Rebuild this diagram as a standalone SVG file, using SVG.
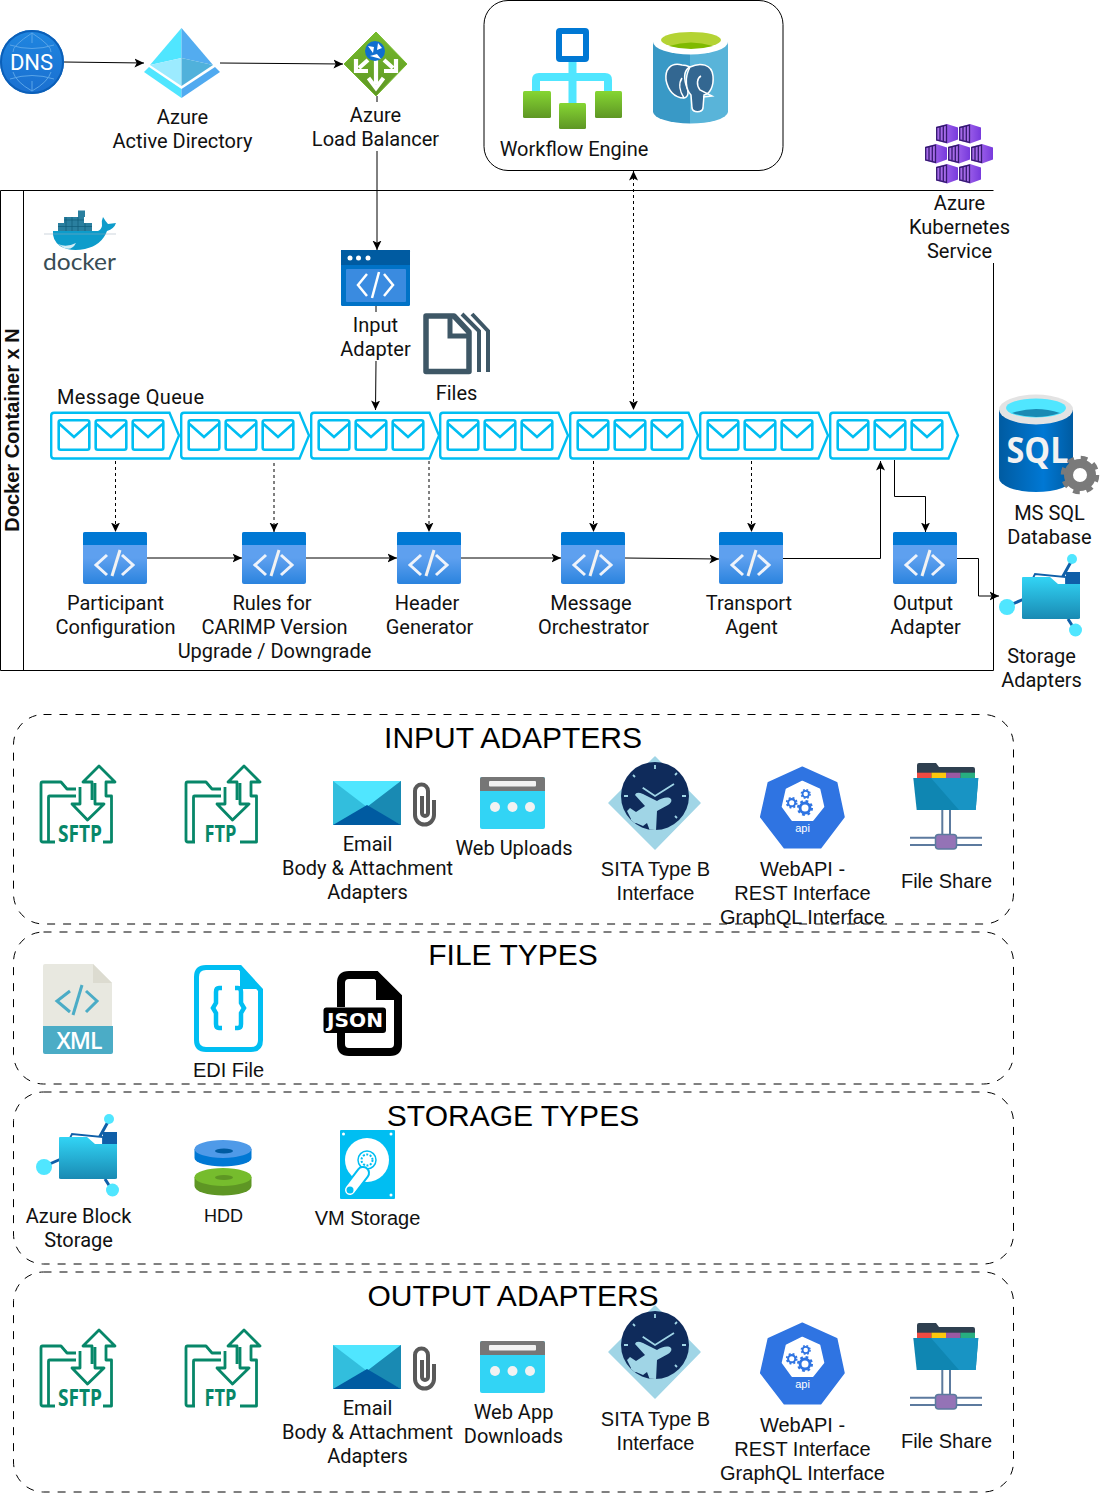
<svg xmlns="http://www.w3.org/2000/svg" width="1101" height="1493" viewBox="0 0 1101 1493">
<style>
text{font-family:Roboto,"Liberation Sans",sans-serif;font-size:20px;fill:#111;text-anchor:middle}
text.l{font-family:"Liberation Sans",Arial,sans-serif}
text.h{font-family:"Liberation Sans",Arial,sans-serif;font-size:30px;fill:#000}
.c{fill:none;stroke:#000;stroke-width:1}
.d{stroke-dasharray:3 3}
.a{marker-end:url(#arr)}
.panel{fill:none;stroke:#000;stroke-width:1;stroke-dasharray:8 8}
.gf{fill:none;stroke:#078769;stroke-width:2.8;stroke-linejoin:round}
text.ft{font-family:"Open Sans","Liberation Sans",sans-serif;font-weight:700;fill:#078769;font-size:24px}
</style>
<defs>
<marker id="arr" markerUnits="userSpaceOnUse" markerWidth="10" markerHeight="10" refX="9.500" refY="5" orient="auto-start-reverse"><path d="M0,0.500 L9.500,5 L0,9.500 L2.200,5Z" fill="#000"/></marker>
<linearGradient id="fn" x1="0" y1="0" x2="0" y2="1"><stop offset="0.5" stop-color="#5ea0ef"/><stop offset="1" stop-color="#2a83de"/></linearGradient>
<linearGradient id="fold" x1="0" y1="0" x2="0" y2="1"><stop offset="0" stop-color="#32d4f5"/><stop offset="1" stop-color="#198ab3"/></linearGradient>
<linearGradient id="green" x1="0" y1="0" x2="0" y2="1"><stop offset="0" stop-color="#86d633"/><stop offset="1" stop-color="#5e9624"/></linearGradient>
<linearGradient id="lb" x1="0" y1="0" x2="0" y2="1"><stop offset="0" stop-color="#76bc2d"/><stop offset="1" stop-color="#5e9624"/></linearGradient>
<linearGradient id="dnsg" x1="0" y1="0" x2="0" y2="1"><stop offset="0" stop-color="#1f86e0"/><stop offset="1" stop-color="#1a6fd0"/></linearGradient>
<linearGradient id="sqlg" x1="0" y1="0" x2="1" y2="0"><stop offset="0" stop-color="#005ba1"/><stop offset="0.6" stop-color="#0078d4"/><stop offset="1" stop-color="#005ba1"/></linearGradient>
<linearGradient id="aks" x1="0" y1="0" x2="1" y2="0"><stop offset="0" stop-color="#b77af4"/><stop offset="1" stop-color="#773adc"/></linearGradient>
<symbol id="fnIcon" width="64" height="52" viewBox="0 0 64 52" overflow="visible">
<rect width="64" height="52" rx="2" fill="url(#fn)"/><path d="M2,0H62a2,2 0 0 1 2,2V13H0V2a2,2 0 0 1 2,-2Z" fill="#0078d4"/>
<path d="M24,23 L13,33 L24,43M39,23 L50,33 L39,43" fill="none" stroke="#eef3fb" stroke-width="3"/><path d="M37,18 L29,44" stroke="#f2f2f2" stroke-width="3"/>
</symbol>
<g id="env"><rect x="1.200" y="1.200" width="30.600" height="29.600" rx="2" fill="#fff" stroke="#00bef2" stroke-width="2.600"/><path d="M2,5 L16.500,18 L31,5" fill="none" stroke="#00bef2" stroke-width="2.600"/></g>
<symbol id="queue" width="132" height="50" viewBox="0 0 132 50" overflow="visible">
<path d="M4,1.200 H119.500 L129,24 L119.500,47 H4 Q1.200,47 1.200,44 V4 Q1.200,1.200 4,1.200Z" fill="#fff" stroke="#00bef2" stroke-width="2.400"/>
<use href="#env" x="7.500" y="7.500"/><use href="#env" x="44.500" y="7.500"/><use href="#env" x="81.500" y="7.500"/>
</symbol>
<symbol id="cube" width="23" height="20" viewBox="0 0 23 20" overflow="visible">
<path d="M0,3 L11,0 L22,3.500 V15.500 L11,19.500 L0,16.500Z" fill="url(#aks)"/><path d="M0.700,3.500 L10.500,1 V18.500 L0.700,16Z" fill="#a569e8" stroke="#341a6e" stroke-width="1.300"/><path d="M4,3V16M7.300,2V17.500" stroke="#341a6e" stroke-width="1.300"/>
</symbol>
<g id="gear"><circle r="11.500" fill="none" stroke="#7a7a7a" stroke-width="9"/><circle r="16" fill="none" stroke="#7a7a7a" stroke-width="6.500" stroke-dasharray="6.300 6.300"/></g>
<g id="storage">
<path d="M1024,599 L1008,606M1062,578 L1072,560M1068,619 L1075,630" stroke="#0f5fa8" stroke-width="3"/>
<path d="M1066,572 H1080 V590 H1066Z" fill="#0f5fa8"/><path d="M1032,580 L1035,574 L1066,577 V586 H1032Z" fill="#fff" stroke="#0f5fa8" stroke-width="1.800"/>
<path d="M1023,577 H1050 L1058,584 H1080 V618 Q1080,619 1078,619 H1024 Q1022,619 1022,618 V578 Q1022,577 1023,577Z" fill="url(#fold)"/>
<circle cx="1007" cy="607" r="8" fill="#50e6ff"/><circle cx="1072" cy="559" r="5" fill="#50e6ff"/><circle cx="1075.500" cy="630" r="6.500" fill="#50e6ff"/>
</g>
<g id="sftpShape">
<path class="gf" d="M76,789 H67 L61,782 H42.500 Q41,782 41,784 V840 Q41,842 43,842 H55M48.500,842 V797 Q48.500,796 49.500,796 H76"/>
<path class="gf" d="M80,787 V804 H72 L87.500,820 L104,804 H95 V783M92,800 V782 H83 L99,766 L115,782 H106 V796 H111.500 V842 H103"/>
</g>
<g id="ftpShape">
<path class="gf" d="M76,789 H67 L61,782 H42.500 Q41,782 41,784 V840 Q41,842 43,842 H50M48.500,842 V797 Q48.500,796 49.500,796 H76"/>
<path class="gf" d="M80,787 V804 H72 L87.500,820 L104,804 H95 V783M92,800 V782 H83 L99,766 L115,782 H106 V796 H111.500 V842 H95"/>
</g>
<g id="email">
<rect x="333" y="781" width="68" height="44" fill="#32bedd"/><path d="M333,781 H401 L367,807Z" fill="#50e6ff"/><path d="M401,781 V825 L367,807Z" fill="#198ab3"/><path d="M333,825 L367,805 L401,825Z" fill="#005ba1"/>
<path d="M434,800 V815 a9.500,9.500 0 0 1 -19,0 V791 a6.500,6.500 0 0 1 13,0 V813 a3,3 0 0 1 -6,0 V796" fill="none" stroke="#595959" stroke-width="4"/>
</g>
<g id="web">
<rect x="480" y="777" width="65" height="52" rx="2" fill="#32d4f5"/><path d="M482,777 H543 Q545,777 545,779 V791 H480 V779 Q480,777 482,777Z" fill="#767676"/>
<rect x="489" y="781" width="47" height="5.500" rx="1" fill="#f2f2f2"/><circle cx="495" cy="807" r="5" fill="#f2f2f2"/><circle cx="512.500" cy="807" r="5" fill="#f2f2f2"/><circle cx="530" cy="807" r="5" fill="#f2f2f2"/>
</g>
<clipPath id="sitaClip"><circle cx="655" cy="796" r="34"/></clipPath>
<g id="sita">
<path d="M655,757 L700,803 L655,849 L609,803Z" fill="#a0d5e6" stroke="#a0d5e6" stroke-width="1.500" stroke-linejoin="round"/>
<circle cx="655" cy="796" r="34" fill="#0f2b5b"/>
<path d="M655,765V769M655,823V827M624,796H628M682,796H686M633,775L635,777M675,775L677,773M675,816L677,818" stroke="#a0d5e6" stroke-width="1.800"/>
<path d="M642.700,787.700 L655,796 L674,784" fill="none" stroke="#a0d5e6" stroke-width="1.800"/>
<path clip-path="url(#sitaClip)" d="M671,799 C668,796 662,798 657,801 L643,794 Q636,791 635,795 L645,806 L636,812 L630,808 L627,811 L631,819 L628,826 L636,823 L643,826 L647,823 L650,831 H656 L657,811 L668,805 C671,803 672,801 671,799Z" fill="#a0d5e6"/>
</g>
<g id="gearB"><circle r="4.500" fill="none" stroke="#2f74e2" stroke-width="2.600"/><circle r="6.300" fill="none" stroke="#2f74e2" stroke-width="2" stroke-dasharray="2.500 2.500"/></g>
<g id="api">
<path d="M802.300,767.300 L836.700,782.700 L844,817 L820.700,847.700 H784.300 L760.700,817 L768.300,782.700Z" fill="#2f74e2" stroke="#2f74e2" stroke-width="1.500" stroke-linejoin="round"/>
<path d="M802.300,781.700 L819.300,789.300 L823.300,806.700 L812.700,820 H792.300 L782.700,806.700 L786.700,789.300Z" fill="#fff" stroke="#fff" stroke-width="2" stroke-linejoin="round"/>
<use href="#gearB" transform="translate(805,808) scale(1.100)"/><use href="#gearB" transform="translate(791.700,802.700) scale(.8)"/><use href="#gearB" transform="translate(805.700,794) scale(.7)"/>
<text x="802.500" y="832" style="font-size:11px;fill:#fff" class="l">api</text>
</g>
<g id="share">
<path d="M917,765 Q917,763 919,763 H936 L939,767 H973 Q975,767 975,769 V778 H917Z" fill="#2f4050"/>
<rect x="917" y="772.700" width="14.500" height="5.300" fill="#f04a42"/><rect x="931.500" y="772.700" width="14.500" height="5.300" fill="#fdc70c"/><rect x="946" y="772.700" width="14.500" height="5.300" fill="#9b59a2"/><rect x="960.500" y="772.700" width="14.500" height="5.300" fill="#27ae80"/>
<path d="M913.300,778 H978.300 L975.700,810 H916.700Z" fill="#0f86b2"/><path d="M931,778 H978.300 L975.700,810 H959Z" fill="#1894c4"/>
<path d="M942.300,810V835M950,810V835M910,837.700H935M910,845H935M957,837.700H982M957,845H982" stroke="#5c7a9e" stroke-width="2"/>
<rect x="935.500" y="834.500" width="21" height="14.500" rx="3" fill="#9473b6" stroke="#5c7a9e" stroke-width="1.500"/>
</g>
</defs>

<g id="connectors">
<path class="c" d="M0.500,670.500 V190.500 H993.500 M993.500,263 V670.500 H0.500 M23.500,190.500 V670.500" />
<path class="c a" d="M64,62 L144,63"/>
<path class="c a" d="M220,63 L343,64"/>
<path class="c" d="M377,96 V102"/>
<path class="c a" d="M377,151 V250"/>
<path class="c" d="M376,306 V312"/>
<path class="c a" d="M376,361 L375.500,410"/>
<path class="c d a" d="M633.500,171 V410" style="marker-start:url(#arr)"/>
<path class="c d a" d="M115.500,461 V532"/>
<path class="c d a" d="M274,463 V532"/>
<path class="c d a" d="M429,461 V532"/>
<path class="c d a" d="M593.500,461 V532"/>
<path class="c d a" d="M751.500,461 V532"/>
<path class="c a" d="M147,558 H242"/>
<path class="c a" d="M306,558 H397"/>
<path class="c a" d="M461,558 H561"/>
<path class="c a" d="M625,558 L719,559"/>
<path class="c a" d="M783,558.500 H880.500 V461"/>
<path class="c a" d="M894.500,460 V496.500 H925.500 V532"/>
<path class="c a" d="M957,558.500 H978.500 V596 H999"/>
</g>

<g id="dns"><circle cx="32" cy="62" r="32" fill="url(#dnsg)"/><circle cx="32" cy="62" r="31" fill="none" stroke="#0b5fb8" stroke-width="2"/>
<path d="M32,33 V43M32,81V91M10,45 Q32,52 54,45M10,79 Q32,72 54,79M32,33 Q12,46 13,52M32,33 Q52,46 51,52M13,72 Q16,82 32,91M51,72 Q48,82 32,91" fill="none" stroke="#5aa5e8" stroke-width="1"/>
<text x="31.500" y="70" style="font-size:22px;fill:#fff">DNS</text></g>
<g id="aad">
<path d="M181.500,28 L150,65 L181.500,58Z" fill="#50e6ff"/><path d="M150,65 L181.500,58 V86Z" fill="#9cebff"/><path d="M181.500,28 L213,65 L181.500,58Z" fill="#53acf0"/><path d="M213,65 L181.500,58 V86Z" fill="#50b1db"/>
<path d="M144,72 L149,67 L181.500,89 V98Z" fill="#50e6ff"/><path d="M220,72 L215,67 L181.500,89 V98Z" fill="#50aaf0"/>
<text x="182.500" y="124">Azure</text><text x="182.500" y="148">Active Directory</text></g>
<g id="lb">
<path d="M376,32 L407,64 L376,96 L344,64Z" fill="url(#lb)" stroke="#76bc2d" stroke-width="1" stroke-linejoin="round"/>
<path d="M376,60 V84M368.500,78 L376,88 L383.500,78M368,60 L359,68M356,59 V71 H368M384,60 L393,68M396,59 V71 H384" fill="none" stroke="#fff" stroke-width="4.200"/>
<circle cx="375" cy="51" r="10" fill="#0f6fd0"/><path d="M368,46 L374,47 L373,53ZM378,43 L382,48 L377,50ZM370,56 L377,54 L381,59Z" fill="#fff"/>
<text x="375.500" y="122">Azure</text><text x="375.500" y="146">Load Balancer</text></g>
<g id="workflow">
<rect x="484" y="0.500" width="299" height="170" rx="24" fill="none" stroke="#000"/>
<path d="M572.500,60 V105M536,92 V80 Q536,77 539,77 H605 Q608,77 608,80 V92" fill="none" stroke="#50e6ff" stroke-width="8"/>
<rect x="559" y="31" width="27" height="28" rx="1" fill="#fff" stroke="#0078d4" stroke-width="6"/>
<rect x="523" y="91" width="28" height="27" rx="1.500" fill="url(#green)"/><rect x="559" y="103" width="27" height="26" rx="1.500" fill="url(#green)"/><rect x="595" y="91" width="27" height="27" rx="1.500" fill="url(#green)"/>
<text x="574" y="156">Workflow Engine</text></g>
<g id="postgres">
<path d="M653,42 V112 A37.500,12 0 0 0 690,123.500 V30 Z" fill="#3999c6"/><path d="M728,42 V112 A37.500,12 0 0 1 690,123.500 V30 Z" fill="#59b4d9"/>
<ellipse cx="690.500" cy="42" rx="37.500" ry="12.500" fill="#fff"/><ellipse cx="691" cy="40" rx="30" ry="8" fill="#b4d334"/><path d="M669,46 Q691,39 713,46 Q691,52 669,46Z" fill="#7fba00"/>
<path d="M682,65 C670,62 665,70 666,80 C668,90 674,98 684,98 C690,96 688,90 686,85 C684,78 684,70 690,67 C688,66 685,65 682,65Z" fill="#336791" stroke="#fff" stroke-width="1.500"/>
<path d="M690,67 C700,62 712,64 713,76 C714,86 710,94 704,95 L703,108 C702,113 693,113 692,108 L691,95 C686,90 684,78 690,67Z" fill="#336791" stroke="#fff" stroke-width="1.500"/>
<path d="M701,76 C697,78 696,85 700,90 L712,96 L703,97M682,78 C678,84 680,92 684,98" fill="none" stroke="#fff" stroke-width="1.500"/>
</g>
<g id="aks-node">
<use href="#cube" x="936" y="124"/><use href="#cube" x="959" y="124"/><use href="#cube" x="925" y="144"/><use href="#cube" x="948" y="144"/><use href="#cube" x="971" y="144"/><use href="#cube" x="936" y="164"/><use href="#cube" x="959" y="164"/>
<text x="959.500" y="210">Azure</text><text x="959.500" y="234">Kubernetes</text><text x="959.500" y="258">Service</text></g>

<g id="docker-container"><text class="l" transform="translate(19,430) rotate(-90)" style="font-weight:700">Docker Container x N</text></g>
<g id="docker-logo">
<path d="M58,223H92V231H58ZM64,217H84V223H64ZM78,210.500H85V217H78Z" fill="#2a7f9f"/><path d="M58,226.500H92M64,220H84M66,217V231M72,217V231M78,217V231M85,223V231" stroke="#0e5c7a" stroke-width=".7"/>
<path d="M53,231 H98 Q101,230 102,226 Q101,221 103,217 Q106,222 108,224 L116,223 Q114,229 107,231 Q102,245 85,249 Q70,252 60,246 Q52,240 53,231Z" fill="#0d9ccb"/>
<path d="M58,244 Q66,248 76,243 Q72,251 64,248Z" fill="#d4edf5"/><path d="M44,234 H116" stroke="#9ab" stroke-width=".5"/>
<text x="79.500" y="270" textLength="73" lengthAdjust="spacingAndGlyphs" style="font-family:Lato,sans-serif;font-size:23px;fill:#394d54">docker</text></g>
<g id="input-adapter">
<rect x="341" y="250" width="69" height="56" rx="1.500" fill="#0072c6"/><rect x="341" y="250" width="69" height="15" fill="#005ba1"/><rect x="346" y="269" width="60" height="33" rx="1" fill="#3a8be0"/>
<circle cx="350" cy="258" r="2.500" fill="#fff"/><circle cx="358.500" cy="258" r="2.500" fill="#fff"/><circle cx="368" cy="258" r="2.500" fill="#fff"/>
<path d="M367,274 L358,285 L367,296M384,274 L393,285 L384,296" fill="none" stroke="#fff" stroke-width="2.500"/><path d="M379,272 L372,298" stroke="#fff" stroke-width="2.500"/>
<text x="375.500" y="332">Input</text><text x="375.500" y="356">Adapter</text></g>
<g id="files">
<path d="M426,316 H454 L469,332 V371.500 H426Z" fill="none" stroke="#3e5766" stroke-width="5.500" stroke-linejoin="round"/>
<path d="M450,316 V336 H469" fill="none" stroke="#3e5766" stroke-width="5"/>
<path d="M462,314 L479,331 V372M472,314 L488,331 V372" fill="none" stroke="#3e5766" stroke-width="4"/>
<text x="456.500" y="400">Files</text></g>
<g id="message-queue">
<text x="130.500" y="404" textLength="147">Message Queue</text>
<use href="#queue" x="50" y="411.500"/><use href="#queue" x="180" y="411.500"/><use href="#queue" x="310" y="411.500"/><use href="#queue" x="439" y="411.500"/><use href="#queue" x="569" y="411.500"/><use href="#queue" x="699" y="411.500"/><use href="#queue" x="829" y="411.500"/>
</g>
<g id="participant"><use href="#fnIcon" x="83" y="532"/><text x="115.500" y="610">Participant</text><text x="115.500" y="634">Configuration</text></g>
<g id="rules"><use href="#fnIcon" x="242" y="532"/><text x="272" y="610">Rules for</text><text x="274.500" y="634">CARIMP Version</text><text x="274.500" y="658">Upgrade / Downgrade</text></g>
<g id="header"><use href="#fnIcon" x="397" y="532"/><text x="427" y="610">Header</text><text x="429.500" y="634">Generator</text></g>
<g id="orchestrator"><use href="#fnIcon" x="561" y="532"/><text x="591" y="610">Message</text><text x="593.500" y="634">Orchestrator</text></g>
<g id="transport"><use href="#fnIcon" x="719" y="532"/><text x="749" y="610">Transport</text><text x="751.500" y="634">Agent</text></g>
<g id="output"><use href="#fnIcon" x="893" y="532"/><text x="923" y="610">Output</text><text x="925.500" y="634">Adapter</text></g>
<g id="mssql">
<path d="M999,410 V478 A37,14 0 0 0 1073,478 V410Z" fill="url(#sqlg)"/>
<ellipse cx="1036" cy="409.500" rx="37" ry="15" fill="#e3e3e3"/><ellipse cx="1036" cy="408" rx="30" ry="9.500" fill="#50e6ff"/><path d="M1012,413 Q1036,405 1060,413 Q1036,421 1012,413Z" fill="#198ab3"/>
<text x="1037.500" y="463" textLength="62" lengthAdjust="spacingAndGlyphs" style="font-family:'Open Sans',sans-serif;font-weight:700;font-size:36px;fill:#f2f2f2">SQL</text>
<use href="#gear" x="1080" y="475"/>
<text x="1049.500" y="520">MS SQL</text><text x="1049.500" y="544">Database</text></g>
<g id="storage-adapters"><use href="#storage"/><text x="1041.500" y="663">Storage</text><text x="1041.500" y="687">Adapters</text></g>

<g id="input-adapters">
<rect class="panel" x="13.500" y="714.500" width="1000" height="209.500" rx="30"/>
<text class="h" x="513" y="748">INPUT ADAPTERS</text>
<use href="#sftpShape"/><text class="ft" x="80" y="842" textLength="44" lengthAdjust="spacingAndGlyphs">SFTP</text>
<use href="#ftpShape" x="145"/><text class="ft" x="220.500" y="842" textLength="32" lengthAdjust="spacingAndGlyphs">FTP</text>
<use href="#email"/><text x="367.500" y="851">Email</text><text x="367.500" y="875">Body &amp; Attachment</text><text x="367.500" y="899">Adapters</text>
<use href="#web"/><text x="514" y="855">Web Uploads</text>
<use href="#sita"/><text class="l" x="655.500" y="876">SITA Type B</text><text class="l" x="655.500" y="900">Interface</text>
<use href="#api"/><text class="l" x="802.500" y="876">WebAPI -</text><text class="l" x="802.500" y="900">REST Interface</text><text class="l" x="802.500" y="924">GraphQL Interface</text>
<use href="#share"/><text class="l" x="946.500" y="888">File Share</text>
</g>
<g id="file-types">
<rect class="panel" x="13.500" y="932" width="1000" height="152" rx="30"/>
<text class="h" x="513" y="965">FILE TYPES</text>
<path d="M45,964 H93 L112,983 V1026 H43 V966 Q43,964 45,964Z" fill="#e8e8e0"/><path d="M93,964 L112,983 H93Z" fill="#dcdbd0"/>
<path d="M43,1026 H113 V1052 Q113,1054 111,1054 H45 Q43,1054 43,1052Z" fill="#4bacc6"/>
<path d="M70,991 L57,1001 L70,1012M86,991 L97,1001 L86,1012" fill="none" stroke="#4bacc6" stroke-width="3"/><path d="M82,985 L73,1015" stroke="#4bacc6" stroke-width="3"/>
<text x="79.500" y="1049" textLength="46" style="font-family:'Open Sans',sans-serif;font-weight:600;font-size:23px;fill:#fff">XML</text>
<path d="M206,967.500 H240 L260.500,990 V1040 Q260.500,1049.500 251,1049.500 H206 Q196.500,1049.500 196.500,1040 V977 Q196.500,967.500 206,967.500Z" fill="none" stroke="#00bef2" stroke-width="5"/><path d="M240,966 V989 H261Z" fill="#00bef2"/>
<path d="M222,988 H219 Q216,988 216,992 V1003 L213,1008 L216,1013 V1024 Q216,1028 219,1028 H222M235,988 H238 Q241,988 241,992 V1003 L244,1008 L241,1013 V1024 Q241,1028 238,1028 H235" fill="none" stroke="#00bef2" stroke-width="4.500"/>
<text class="l" x="228.500" y="1077">EDI File</text>
<path d="M341,1007 V983 Q341,975 349,975 H376 L398,997 V1044 Q398,1052 390,1052 H349 Q341,1052 341,1044 V1033" fill="none" stroke="#000" stroke-width="8"/><path d="M376,972 V1000 H400Z" fill="#000"/>
<rect x="323.500" y="1007.500" width="62.500" height="25.500" rx="3" fill="#000"/>
<text x="355" y="1027" textLength="56" lengthAdjust="spacingAndGlyphs" style="font-family:'DejaVu Sans',sans-serif;font-weight:700;font-size:19px;fill:#fff">JSON</text>
</g>
<g id="storage-types">
<rect class="panel" x="13.500" y="1092" width="1000" height="172" rx="30"/>
<text class="h" x="513" y="1126">STORAGE TYPES</text>
<use href="#storage" transform="translate(-963,560)"/><text x="78.500" y="1223">Azure Block</text><text x="78.500" y="1247">Storage</text>
<path d="M194.500,1149 V1158 A28.500,8.500 0 0 0 251.500,1158 V1149Z" fill="#0078d4"/><ellipse cx="223" cy="1149" rx="28.500" ry="9" fill="#4f9ae8"/><ellipse cx="224" cy="1151" rx="9" ry="2.500" fill="#005ba1"/>
<path d="M194.500,1177 V1186 A28.500,9.500 0 0 0 251.500,1186 V1177Z" fill="#5e9624"/><ellipse cx="223" cy="1177" rx="28.500" ry="9" fill="#76bc2d"/><ellipse cx="224" cy="1177.500" rx="9" ry="2.500" fill="#5e9624"/>
<text class="l" x="223.500" y="1222" style="font-size:18px">HDD</text>
<rect x="340" y="1130" width="55" height="69" rx="1" fill="#00bef2"/><circle cx="367" cy="1160" r="22" fill="#fff"/><circle cx="367" cy="1160" r="9" fill="none" stroke="#00bef2" stroke-width="1.500"/><circle cx="367" cy="1160" r="5.500" fill="none" stroke="#00bef2" stroke-width="2" stroke-dasharray="2 1.500"/>
<path d="M363,1173 L350,1190" stroke="#00bef2" stroke-width="14" stroke-linecap="round"/><path d="M363,1173 L350,1190" stroke="#fff" stroke-width="10" stroke-linecap="round"/><circle cx="350" cy="1190" r="3.500" fill="#00bef2"/>
<circle cx="343.500" cy="1134" r="1.500" fill="#fff"/><circle cx="391" cy="1134" r="1.500" fill="#fff"/><circle cx="391" cy="1195" r="1.500" fill="#fff"/>
<text class="l" x="367.500" y="1225">VM Storage</text>
</g>
<g id="output-adapters">
<rect class="panel" x="13.500" y="1272" width="1000" height="220" rx="30"/>
<text class="h" x="513" y="1306">OUTPUT ADAPTERS</text>
<use href="#sftpShape" y="564"/><text class="ft" x="80" y="1406" textLength="44" lengthAdjust="spacingAndGlyphs">SFTP</text>
<use href="#ftpShape" x="145" y="564"/><text class="ft" x="220.500" y="1406" textLength="32" lengthAdjust="spacingAndGlyphs">FTP</text>
<use href="#email" y="564"/><text x="367.500" y="1415">Email</text><text x="367.500" y="1439">Body &amp; Attachment</text><text x="367.500" y="1463">Adapters</text>
<use href="#web" y="564"/><text x="513.500" y="1419">Web App</text><text x="513.500" y="1443">Downloads</text>
<use href="#sita" y="549"/><text class="l" x="655.500" y="1426">SITA Type B</text><text class="l" x="655.500" y="1450">Interface</text>
<use href="#api" y="556"/><text class="l" x="802.500" y="1432">WebAPI -</text><text class="l" x="802.500" y="1456">REST Interface</text><text class="l" x="802.500" y="1480">GraphQL Interface</text>
<use href="#share" y="560"/><text class="l" x="946.500" y="1448">File Share</text>
</g>
</svg>
